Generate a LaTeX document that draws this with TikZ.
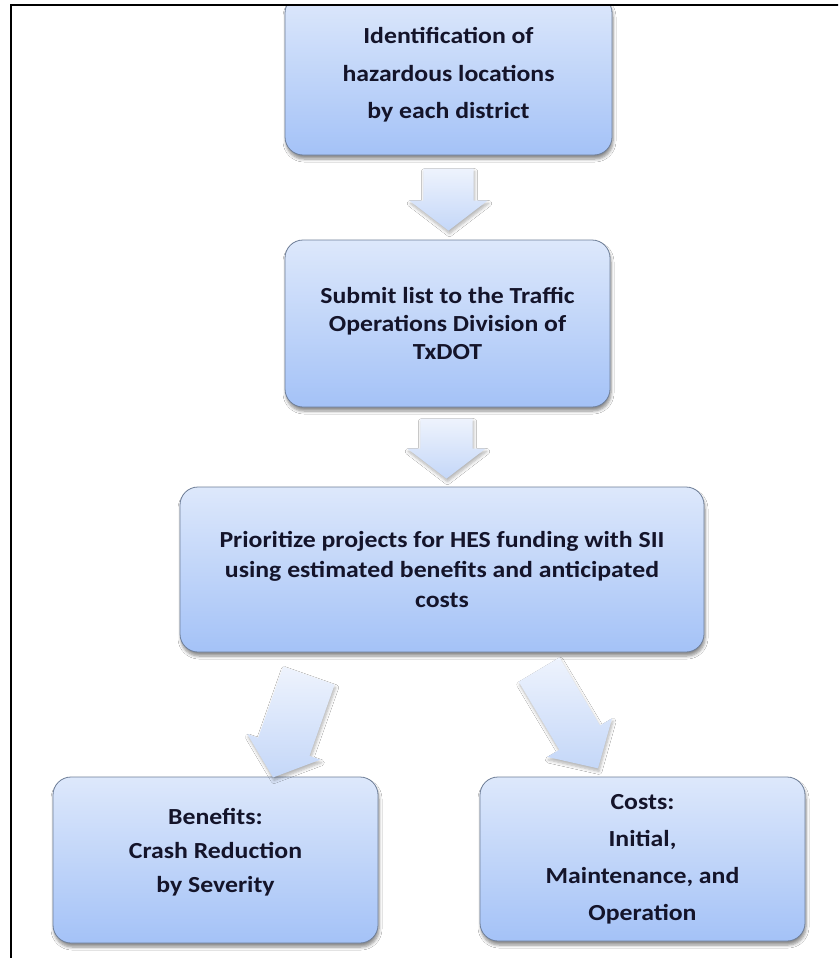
\documentclass[tikz,border=0pt]{standalone}
\usepackage{fontspec}
\setmainfont{Carlito}
\newfontfamily\widefont[FakeStretch=1.12]{Carlito}
\usetikzlibrary{shapes.arrows,shadows.blur,calc}
\definecolor{boxtop}{HTML}{DDE8FB}
\definecolor{boxbot}{HTML}{A4C2F7}
\definecolor{boxline}{HTML}{6E7E98}
\definecolor{arrtop}{HTML}{EEF3FD}
\definecolor{arrbot}{HTML}{C4D7F8}
\definecolor{txt}{HTML}{14142A}
\begin{document}
\begin{tikzpicture}[x=1pt,y=1pt,
  box/.style={draw=boxline, line width=0.8pt, rounded corners=18pt,
    top color=boxtop, bottom color=boxbot, align=center, text=txt, inner sep=0pt,
    blur shadow={shadow xshift=1pt, shadow yshift=-4pt, shadow blur steps=6,
      shadow blur radius=3pt, shadow opacity=45}},
  boxtext/.style={font=\widefont\fontsize{23}{#1}\selectfont\bfseries},
  barrow/.style={single arrow, draw=none, top color=arrtop, bottom color=arrbot,
    inner xsep=0pt, anchor=tail,
    blur shadow={shadow xshift=1pt, shadow yshift=-3pt, shadow blur steps=6,
      shadow blur radius=3pt, shadow opacity=30}}
]
\useasboundingbox (0,0) rectangle (838,-958);
\clip (0,0) rectangle (838,-958);
\fill[white] (0,0) rectangle (838,-958);

\begin{scope}
\clip (0,-6) rectangle (838,-958);
\node[box, boxtext=37.5, minimum width=327pt, minimum height=160pt] (b1) at (448.5,-75)
  {Identification of\\hazardous locations\\by each district};
\end{scope}

\node[box, boxtext=28, minimum width=325pt, minimum height=167pt] (b2) at (447.5,-323.5)
  {Submit list to the Traffic\\Operations Division of\\TxDOT};

\node[box, boxtext=30, minimum width=524pt, minimum height=165pt] (b3) at (442,-569.5)
  {Prioritize projects for HES funding with SII\\using estimated benefits and anticipated\\costs};

\node[box, boxtext=34, minimum width=325pt, minimum height=166pt] (b4) at (215.5,-860)
  {Benefits:\\Crash Reduction\\by Severity\\[-14pt]\mbox{}};

\node[box, boxtext=37, minimum width=325pt, minimum height=164pt] (b5) at (642.5,-859)
  {Costs:\\Initial,\\Maintenance, and\\Operation};

\node[barrow, minimum height=62pt, inner ysep=25pt, single arrow head extend=14pt,
  single arrow tip angle=105, rotate=-90] (a1) at ($(b1.south)+(0,-13)$) {};
\node[barrow, minimum height=60pt, inner ysep=26pt, single arrow head extend=13pt,
  single arrow tip angle=105, rotate=-90] (a2) at ($(b2.south)+(-1,-11)$) {};
\node[barrow, minimum height=108pt, inner ysep=27pt, single arrow head extend=11.5pt,
  single arrow tip angle=100, rotate=-109.4] (a3) at ($(b3.south)+(-133,-23)$) {};
\node[barrow, minimum height=115pt, inner ysep=23.5pt, single arrow head extend=14pt,
  single arrow tip angle=93, rotate=-59.2] (a4) at ($(b3.south)+(97,-17)$) {};

\draw[line width=2.5pt, line cap=rect] (11,-958) -- (11,-5) -- (838,-5);
\end{tikzpicture}
\end{document}
